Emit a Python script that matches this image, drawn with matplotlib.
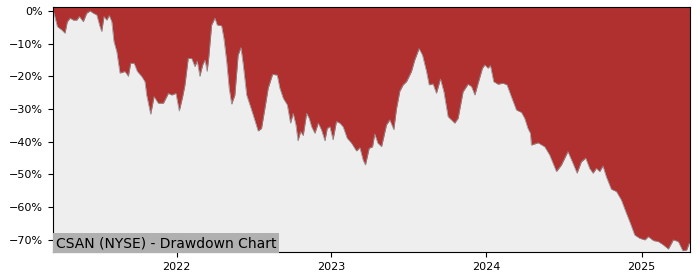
import pandas as pd
import matplotlib
matplotlib.use("Agg")
import matplotlib.pyplot as plt
import matplotlib.dates as mdates
from matplotlib.ticker import PercentFormatter

# drawdown: time as decimal year, value in percent
years = [
    2021.202, 2021.208, 2021.230, 2021.258, 2021.279, 2021.294, 2021.312, 2021.333,
    2021.355, 2021.372, 2021.397, 2021.419, 2021.441, 2021.462, 2021.484, 2021.505,
    2021.516, 2021.531, 2021.548, 2021.565, 2021.581, 2021.595, 2021.613, 2021.634,
    2021.666, 2021.688, 2021.703, 2021.725, 2021.746, 2021.774, 2021.795, 2021.806,
    2021.832, 2021.854, 2021.881, 2021.914, 2021.946, 2021.968, 2021.995, 2022.017,
    2022.039, 2022.054, 2022.075, 2022.097, 2022.118, 2022.133, 2022.150, 2022.168,
    2022.183, 2022.197, 2022.208, 2022.226, 2022.247, 2022.262, 2022.290, 2022.305,
    2022.323, 2022.339, 2022.355, 2022.376, 2022.397, 2022.415, 2022.430, 2022.452,
    2022.473, 2022.494, 2022.526, 2022.548, 2022.570, 2022.591, 2022.619, 2022.649,
    2022.666, 2022.688, 2022.714, 2022.735, 2022.752, 2022.770, 2022.783, 2022.800,
    2022.817, 2022.839, 2022.855, 2022.871, 2022.892, 2022.914, 2022.935, 2022.957,
    2022.972, 2022.989, 2023.010, 2023.032, 2023.054, 2023.075, 2023.101, 2023.129,
    2023.161, 2023.183, 2023.204, 2023.219, 2023.243, 2023.265, 2023.279, 2023.299,
    2023.323, 2023.355, 2023.376, 2023.402, 2023.419, 2023.441, 2023.462, 2023.484,
    2023.516, 2023.537, 2023.565, 2023.587, 2023.613, 2023.630, 2023.655, 2023.677,
    2023.703, 2023.725, 2023.752, 2023.774, 2023.795, 2023.817, 2023.849, 2023.881,
    2023.903, 2023.925, 2023.946, 2023.974, 2023.989, 2024.010, 2024.026, 2024.047,
    2024.075, 2024.107, 2024.133, 2024.161, 2024.194, 2024.226, 2024.247, 2024.268,
    2024.284, 2024.290, 2024.333, 2024.376, 2024.408, 2024.452, 2024.484, 2024.526,
    2024.559, 2024.585, 2024.613, 2024.641, 2024.666, 2024.688, 2024.710, 2024.731,
    2024.752, 2024.774, 2024.806, 2024.839, 2024.871, 2024.903, 2024.929, 2024.957,
    2024.989, 2025.021, 2025.043, 2025.075, 2025.107, 2025.139, 2025.172, 2025.204,
    2025.236, 2025.265, 2025.290, 2025.307, 2025.312,
]
drawdown = [
    0.0, -0.7, -4.8, -5.8, -6.8, -3.3, -2.2, -2.8,
    -2.8, -1.7, -3.3, -0.7, 0.0, -0.7, -1.2, -4.8,
    -6.3, -1.7, -2.8, -1.4, -3.3, -9.4, -12.4, -19.0,
    -18.5, -20.0, -16.0, -16.0, -18.5, -20.0, -21.6, -25.7,
    -31.6, -26.2, -28.2, -28.2, -25.2, -25.7, -25.2, -30.6,
    -26.2, -22.6, -14.5, -14.5, -17.0, -15.3, -20.0, -16.5,
    -15.0, -18.5, -14.0, -4.3, -2.2, -4.3, -4.5, -8.4,
    -15.5, -23.6, -28.5, -25.7, -13.5, -11.2, -16.5, -25.7,
    -28.7, -31.8, -36.7, -35.9, -29.7, -23.6, -19.4, -19.6,
    -23.6, -26.7, -28.7, -34.3, -31.3, -34.9, -39.7, -36.9,
    -38.1, -31.3, -32.8, -35.4, -37.4, -34.3, -36.4, -39.7,
    -35.9, -35.4, -39.4, -33.8, -34.3, -35.4, -38.9, -40.4,
    -42.8, -41.8, -45.6, -47.1, -42.0, -41.5, -37.6, -40.4,
    -41.5, -34.8, -33.3, -36.3, -30.0, -24.5, -22.6, -21.6,
    -18.5, -15.0, -11.5, -13.5, -18.5, -22.6, -22.3, -25.2,
    -20.8, -24.7, -32.3, -33.3, -34.3, -32.8, -24.7, -22.4,
    -23.1, -25.7, -22.1, -17.5, -16.5, -17.5, -16.7, -21.6,
    -22.4, -22.1, -22.6, -26.2, -30.3, -31.0, -32.8, -35.9,
    -37.4, -41.0, -40.3, -41.5, -44.0, -49.1, -47.1, -43.0,
    -46.6, -49.6, -46.1, -45.0, -48.1, -49.6, -48.1, -49.1,
    -47.4, -50.7, -54.5, -55.2, -57.8, -61.8, -64.9, -68.5,
    -69.5, -70.0, -69.0, -70.2, -70.5, -71.5, -72.8, -70.0,
    -70.5, -73.3, -73.1, -71.0, -71.0,
]
y_ticks = [0, -10, -20, -30, -40, -50, -60, -70]
title = "CSAN (NYSE) - Drawdown Chart"


def to_date(y):
    start = pd.Timestamp(int(y), 1, 1)
    return start + pd.Timedelta(days=(y - int(y)) * 365.25)


dates = [to_date(y) for y in years]
dd = [v / 100 for v in drawdown]
y_top = 0.012

fig = plt.figure(figsize=(7, 2.8), dpi=100)
ax = fig.add_axes([0.0757, 0.1, 0.91, 0.875])
ax.set_facecolor("#eeeeee")

# red area from the drawdown line up to the top of the axes
ax.fill_between(dates, dd, y_top, color="#b03030", linewidth=0)
ax.plot(dates, dd, color="#909090", linewidth=0.5)

ax.set_xlim(dates[0], dates[-1])
ax.set_ylim(-0.737, y_top)
ax.set_yticks([t / 100 for t in y_ticks])
ax.yaxis.set_major_formatter(PercentFormatter(1.0, decimals=0))
ax.xaxis.set_major_locator(mdates.YearLocator())
ax.xaxis.set_major_formatter(mdates.DateFormatter("%Y"))
ax.tick_params(labelsize=8)

ax.text(0.004, 0.008, title, transform=ax.transAxes, fontsize=10,
        ha="left", va="bottom",
        bbox=dict(facecolor="#b0b0b0", edgecolor="none", pad=2))

fig.savefig("out.png", dpi=100)
